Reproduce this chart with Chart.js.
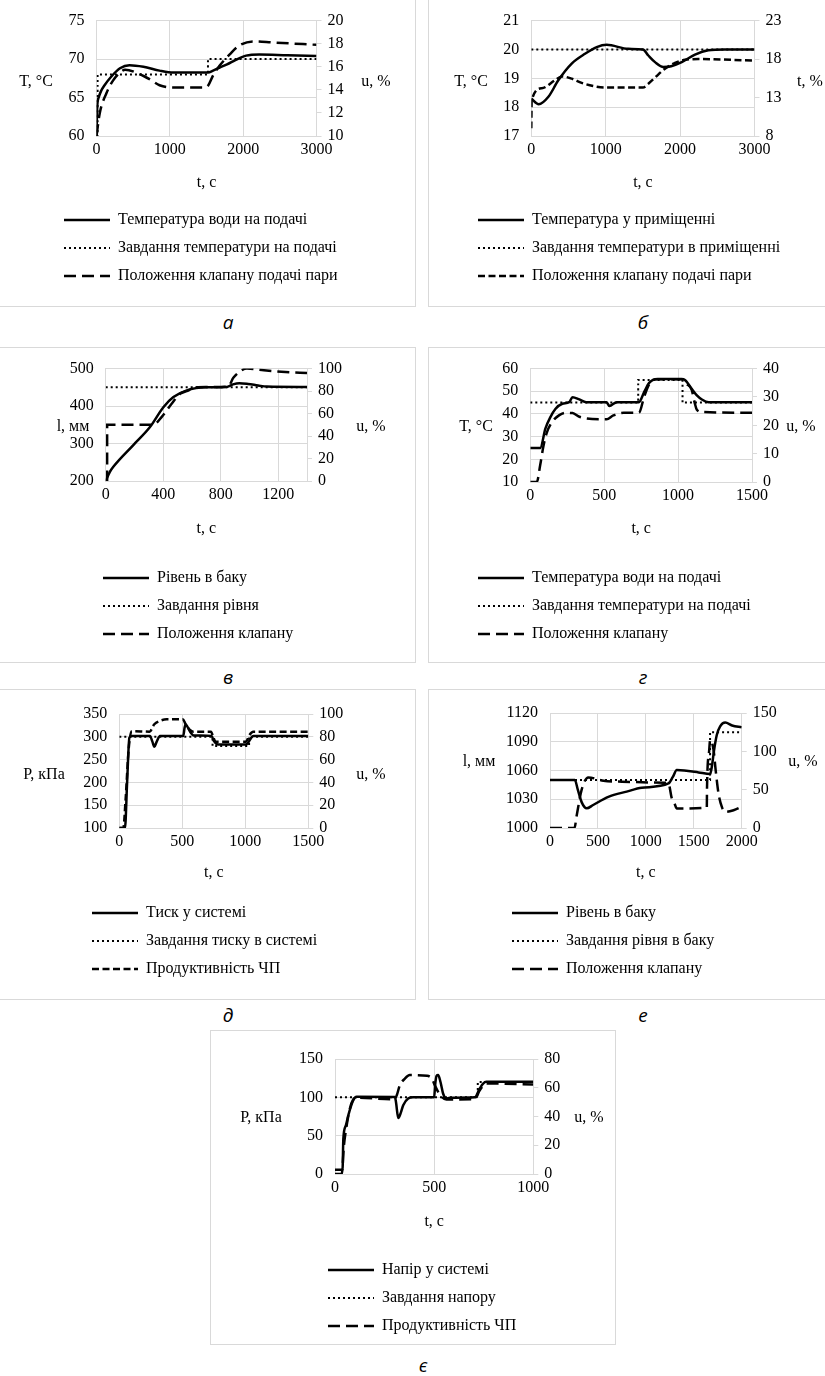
<!DOCTYPE html>
<html lang="uk">
<head>
<meta charset="utf-8">
<title>Перехідні процеси</title>
<script src="https://cdn.jsdelivr.net/npm/chart.js@4.4.1/dist/chart.umd.min.js"></script>
<style>
  html, body { margin: 0; padding: 0; background: #fff; }
  body { position: relative; width: 825px; height: 1376px; overflow: hidden; }
  .box { position: absolute; border: 1px solid #d9d9d9; box-sizing: border-box; }
  canvas { position: absolute; }
  .cap { position: absolute; font: italic 19px "Open Sans", "Noto Sans", sans-serif; color: #000; transform: translate(-50%, -50%); }
</style>
</head>
<body>
<script>
// ---- а: температура води на подачі ----
const aTicksX = [0, 3000, 1000];
const aTicksY = [60, 75, 5];
const aTicksU = [10, 20, 2];
const aTempT = [0, 10, 30, 60, 110, 200, 320, 450, 640, 860, 1050, 1520, 1590, 1680, 1780, 1900, 2040, 2220, 2600, 3000];
const aTempV = [60, 63.8, 65, 65.8, 66.6, 67.7, 68.8, 69.2, 69.0, 68.5, 68.25, 68.25, 68.5, 68.9, 69.3, 69.9, 70.45, 70.6, 70.5, 70.4];
const aSetT = [0, 15, 15, 1520, 1520, 3000];
const aSetV = [60, 60, 68, 68, 70, 70];
const aValveT = [0, 45, 135, 225, 340, 390, 590, 730, 860, 1045, 1480, 1525, 1590, 1680, 1820, 1950, 2140, 2410, 3000];
const aValveV = [10, 12.0, 13.7, 14.8, 15.6, 15.75, 15.35, 14.9, 14.4, 14.2, 14.2, 14.4, 15.25, 16.1, 17.1, 17.85, 18.2, 18.1, 17.9];

// ---- б: температура у приміщенні ----
const bTicksX = [0, 3000, 1000];
const bTicksY = [17, 21, 1];
const bTicksU = [8, 23, 5];
const bTempT = [0, 100, 230, 363, 543, 722, 879, 1013, 1304, 1500, 1573, 1663, 1775, 1880, 2022, 2200, 2380, 2600, 3000];
const bTempV = [18.3, 18.1, 18.36, 18.93, 19.51, 19.85, 20.08, 20.16, 20.02, 20.0, 19.79, 19.56, 19.39, 19.42, 19.56, 19.82, 19.97, 20.0, 20.0];
const bSetT = [0, 3000];
const bSetV = [20, 20];
const bValveT = [0, 5, 140, 319, 408, 543, 677, 856, 990, 1500, 1573, 1663, 1797, 1931, 2066, 2245, 3000];
const bValveV = [9.0, 12.6, 14.2, 15.25, 15.75, 15.45, 14.9, 14.45, 14.3, 14.3, 14.8, 15.6, 16.75, 17.5, 17.9, 18.0, 17.8];

// ---- в: рівень в баку ----
const vTicksX = [0, 1400, 400];
const vTicksY = [200, 500, 100];
const vTicksU = [0, 100, 20];
const vLevelT = [0, 30, 53, 192, 308, 401, 471, 564, 703, 840, 885, 930, 990, 1060, 1120, 1400];
const vLevelV = [200, 225, 238, 296, 344, 397, 424, 442, 450, 451, 458, 461, 459, 455, 452, 451];
const vSetT = [0, 1400];
const vSetV = [450, 450];
const vValveT = [0, 10, 10, 330, 390, 460, 517, 564, 640, 850, 889, 940, 982, 1100, 1250, 1400];
const vValveV = [0, 0, 50, 50, 57, 69, 77.5, 80, 83.5, 84, 92, 98, 100, 98.5, 97, 96];

// ---- г: температура води на подачі ----
const hTicksX = [0, 1500, 500];
const hTicksY = [10, 60, 10];
const hTicksU = [0, 40, 10];
const hTempT = [0, 67, 102, 136, 171, 217, 263, 286, 332, 378, 516, 535, 585, 735, 770, 804, 862, 1023, 1046, 1092, 1127, 1161, 1207, 1500];
const hTempV = [25, 25, 33.5, 38.6, 42.3, 44.5, 45.2, 47.4, 46.4, 45.2, 45.2, 43.5, 45.2, 45.2, 49.6, 53.7, 55.4, 55.4, 55, 51.1, 48.2, 46.4, 45.2, 45.2];
const hSetT = [0, 730, 730, 1030, 1030, 1500];
const hSetV = [45, 45, 55, 55, 45, 45];
const hValveT = [0, 44, 67, 90, 113, 148, 194, 240, 286, 332, 470, 516, 562, 632, 735, 770, 805, 850, 1023, 1060, 1092, 1112, 1127, 1161, 1500];
const hValveV = [0, 0, 6, 13, 17.6, 21.2, 23.5, 24.4, 24.3, 23.0, 22.1, 22.1, 23.5, 24.4, 24.4, 30, 34.5, 36.2, 36.2, 34.5, 32.5, 28, 25.5, 24.7, 24.4];

// ---- д: тиск у системі ----
const dTicksX = [0, 1500, 500];
const dTicksY = [100, 350, 50];
const dTicksU = [0, 100, 20];
const dPresT = [0, 45, 62, 80, 100, 243, 262, 278, 296, 323, 508, 518, 528, 545, 565, 590, 733, 750, 786, 1005, 1025, 1045, 1065, 1500];
const dPresV = [100, 100, 200, 298, 302, 302, 290, 278, 289, 302, 302, 320, 327, 320, 310, 303, 302, 291, 283, 283, 288, 297, 302, 302];
const dSetT = [0, 740, 740, 1030, 1030, 1500];
const dSetV = [300, 300, 280, 280, 300, 300];
const dPumpT = [0, 32, 50, 75, 100, 240, 278, 323, 376, 505, 526, 561, 587, 728, 745, 765, 1005, 1032, 1063, 1500];
const dPumpV = [0, 0, 25, 70, 85, 84.5, 91, 94, 95.3, 95.3, 91, 86, 84.5, 84.5, 80, 75.7, 75.7, 81.5, 84.5, 84.5];

// ---- е: рівень в баку ----
const eTicksX = [0, 2000, 500];
const eTicksY = [1000, 1120, 30];
const eTicksU = [0, 150, 50];
const eLevelT = [0, 260, 290, 330, 383, 450, 609, 800, 957, 1236, 1280, 1323, 1400, 1550, 1671, 1690, 1710, 1740, 1775, 1828, 1900, 2000];
const eLevelV = [1050, 1050, 1040, 1027, 1020.5, 1024, 1032.5, 1038, 1042, 1046.5, 1053, 1060.5, 1060, 1058, 1056.3, 1065, 1080, 1097, 1106, 1110, 1107, 1105];
const eSetT = [0, 1670, 1670, 2000];
const eSetV = [1050, 1050, 1100, 1100];
const eValveT = [0, 255, 279, 331, 400, 557, 749, 1200, 1236, 1271, 1299, 1323, 1636, 1638, 1660, 1671, 1706, 1730, 1758, 1793, 1828, 1915, 2000];
const eValveV = [0, 0, 16.6, 50.3, 66, 61.7, 60.4, 59, 58.2, 38.5, 32, 25.4, 26.7, 51.6, 100, 115, 102, 73.5, 45, 27.5, 21, 23.2, 27.6];

// ---- є: напір у системі ----
const yeTicksX = [0, 1000, 500];
const yeTicksY = [0, 150, 50];
const yeTicksU = [0, 80, 20];
const yeHeadT = [0, 38, 42, 55, 67, 92, 109, 302, 308, 319, 332, 344, 369, 394, 500, 505, 512, 520, 532, 545, 562, 579, 705, 730, 747, 763, 1000];
const yeHeadV = [5.5, 5.5, 46, 63.4, 76.5, 96.2, 100.6, 100.5, 93, 73, 80, 89.7, 98.4, 100, 100, 116, 128, 129, 120, 105, 98.4, 99.5, 100, 111.5, 118, 120.3, 120.3];
const yeSetT = [0, 720, 720, 1000];
const yeSetV = [100, 100, 120, 120];
const yePumpT = [0, 34, 45, 55, 75, 92, 109, 300, 312, 327, 350, 377, 465, 490, 503, 530, 562, 705, 730, 763, 1000];
const yePumpV = [0, 0, 19.8, 30.3, 45.5, 51.8, 53, 52, 55, 61.8, 66, 68.8, 68.3, 66, 61.8, 55, 51.8, 52, 58.3, 63, 62.3];

const GRID = '#d9d9d9';
const SERIF = '"Liberation Serif", "Times New Roman", serif';
const SOLID = [], DOT = [2, 3], DASH = [12, 6], SHORT = [7, 3.5];

Chart.defaults.font.family = SERIF;
Chart.defaults.font.size = 16;
Chart.defaults.color = '#000';

function series(label, ts, vs, axis, dash) {
  return {
    label,
    data: ts.map((t, i) => ({ x: t, y: vs[i] })),
    yAxisID: axis,
    borderColor: '#000',
    backgroundColor: '#000',
    borderWidth: dash === DOT ? 2 : 2.5,
    borderDash: dash,
    pointRadius: 0,
    cubicInterpolationMode: 'monotone',
    fill: false
  };
}

// Excel-like bits: horizontal axis titles and a legend that starts left of the plot
const excelBits = {
  id: 'excelBits',
  afterLayout(chart, args, o) {
    if (chart.legend) chart.legend.left = o.legendLeft;
  },
  afterDraw(chart, args, o) {
    const ctx = chart.ctx;
    ctx.save();
    ctx.font = '16px ' + SERIF;
    ctx.fillStyle = '#000';
    ctx.textAlign = 'center';
    ctx.textBaseline = 'middle';
    ctx.fillText(o.left, o.leftX, o.y);
    ctx.fillText(o.right, o.rightX, o.y);
    ctx.restore();
  }
};

const panels = [
  { cap: 'а', capAt: [228, 322], box: [-1, -1, 417, 308], plot: [96.5, 316.5, 20, 136], legendAt: [64, 220], xTitleY: 183,
    titles: ['T, °C', 36, 'u, %', 376, 82], x: aTicksX, y: aTicksY, u: aTicksU,
    sets: [series('Температура води на подачі', aTempT, aTempV, 'y', SOLID),
           series('Завдання температури на подачі', aSetT, aSetV, 'y', DOT),
           series('Положення клапану подачі пари', aValveT, aValveV, 'y1', DASH)] },
  { cap: 'б', capAt: [643, 322], box: [428, -1, 398, 308], plot: [531.3, 754.5, 20, 136], legendAt: [478, 220], xTitleY: 183,
    titles: ['T, °C', 471, 't, %', 810, 82], x: bTicksX, y: bTicksY, u: bTicksU,
    sets: [series('Температура у приміщенні', bTempT, bTempV, 'y', SOLID),
           series('Завдання температури в приміщенні', bSetT, bSetV, 'y', DOT),
           series('Положення клапану подачі пари', bValveT, bValveV, 'y1', SHORT)] },
  { cap: 'в', capAt: [228, 677], box: [-1, 347, 417, 316], plot: [105.7, 307, 368, 481], legendAt: [103, 578], xTitleY: 529,
    titles: ['l, мм', 73, 'u, %', 371, 427], x: vTicksX, y: vTicksY, u: vTicksU,
    sets: [series('Рівень в баку', vLevelT, vLevelV, 'y', SOLID),
           series('Завдання рівня', vSetT, vSetV, 'y', DOT),
           series('Положення клапану', vValveT, vValveV, 'y1', DASH)] },
  { cap: 'г', capAt: [643, 677], box: [428, 347, 398, 316], plot: [530.3, 752, 368, 482], legendAt: [478, 578], xTitleY: 529,
    titles: ['T, °C', 476, 'u, %', 801, 427], x: hTicksX, y: hTicksY, u: hTicksU,
    sets: [series('Температура води на подачі', hTempT, hTempV, 'y', SOLID),
           series('Завдання температури на подачі', hSetT, hSetV, 'y', DOT),
           series('Положення клапану', hValveT, hValveV, 'y1', DASH)] },
  { cap: 'д', capAt: [228, 1015], box: [-1, 689, 417, 311], plot: [119.3, 308.3, 714, 828], legendAt: [92, 913], xTitleY: 873,
    titles: ['P, кПа', 44, 'u, %', 371, 775], x: dTicksX, y: dTicksY, u: dTicksU,
    sets: [series('Тиск у системі', dPresT, dPresV, 'y', SOLID),
           series('Завдання тиску в системі', dSetT, dSetV, 'y', DOT),
           series('Продуктивність ЧП', dPumpT, dPumpV, 'y1', SHORT)] },
  { cap: 'е', capAt: [643, 1015], box: [428, 689, 398, 311], plot: [550, 741.7, 713, 828], legendAt: [512, 913], xTitleY: 873,
    titles: ['l, мм', 479, 'u, %', 803, 762], x: eTicksX, y: eTicksY, u: eTicksU,
    sets: [series('Рівень в баку', eLevelT, eLevelV, 'y', SOLID),
           series('Завдання рівня в баку', eSetT, eSetV, 'y', DOT),
           series('Положення клапану', eValveT, eValveV, 'y1', DASH)] },
  { cap: 'є', capAt: [423, 1365], box: [210, 1030, 406, 315], plot: [335, 533.3, 1059, 1174], legendAt: [328, 1270], xTitleY: 1222,
    titles: ['P, кПа', 261, 'u, %', 589, 1118], x: yeTicksX, y: yeTicksY, u: yeTicksU,
    sets: [series('Напір у системі', yeHeadT, yeHeadV, 'y', SOLID),
           series('Завдання напору', yeSetT, yeSetV, 'y', DOT),
           series('Продуктивність ЧП', yePumpT, yePumpV, 'y1', DASH)] }
];

const LEG_PAD = 12, LEG_H = 94, LEFT_W = 48, RIGHT_W = 40;
const plain = v => String(v);

panels.forEach(p => {
  const [bx, by, bw, bh] = p.box;
  const [pl, pr, pt, pb] = p.plot;

  const box = document.createElement('div');
  box.className = 'box';
  Object.assign(box.style, { left: bx + 'px', top: by + 'px', width: bw + 'px', height: bh + 'px' });
  document.body.appendChild(box);

  const cap = document.createElement('div');
  cap.className = 'cap';
  cap.textContent = p.cap;
  Object.assign(cap.style, { left: p.capAt[0] + 'px', top: p.capAt[1] + 'px' });
  document.body.appendChild(cap);

  const cv = document.createElement('canvas');
  cv.width = bw; cv.height = bh;
  Object.assign(cv.style, { left: bx + 'px', top: by + 'px', width: bw + 'px', height: bh + 'px' });
  document.body.appendChild(cv);

  const padL = pl - bx - LEFT_W;
  const padR = bw - (pr - bx) - RIGHT_W;
  const legendTop = p.legendAt[1] - 20;

  new Chart(cv, {
    type: 'line',
    data: { datasets: p.sets },
    options: {
      responsive: false,
      animation: false,
      devicePixelRatio: 1,
      layout: { padding: { left: padL, right: padR, top: pt - by, bottom: (by + bh) - legendTop - LEG_H } },
      scales: {
        x: {
          type: 'linear', min: p.x[0], max: p.x[1],
          ticks: { stepSize: p.x[2], includeBounds: false, padding: 4, maxRotation: 0, callback: plain },
          grid: { color: GRID, drawTicks: false },
          border: { color: GRID },
          title: { display: true, text: 't, с', padding: { top: 0, bottom: legendTop - p.xTitleY - 9.6 } },
          afterFit: s => { s.height = legendTop - pb; }
        },
        y: {
          position: 'left', min: p.y[0], max: p.y[1],
          ticks: { stepSize: p.y[2], padding: 12, callback: plain },
          grid: { color: GRID, drawTicks: false },
          border: { color: GRID },
          afterFit: s => { s.width = LEFT_W; }
        },
        y1: {
          position: 'right', min: p.u[0], max: p.u[1],
          ticks: { stepSize: p.u[2], padding: 6, callback: plain },
          grid: { drawOnChartArea: false, tickLength: 5, color: GRID },
          border: { color: GRID },
          afterFit: s => { s.width = RIGHT_W; }
        }
      },
      plugins: {
        tooltip: { enabled: false },
        legend: {
          position: 'bottom',
          align: 'start',
          labels: {
            usePointStyle: true,
            pointStyle: 'line',
            pointStyleWidth: 46,
            padding: LEG_PAD,
            color: '#000',
            font: { family: SERIF, size: 16 },
            generateLabels: chart => chart.data.datasets.map((d, i) => ({
              text: d.label, datasetIndex: i, hidden: false, fontColor: '#000',
              strokeStyle: d.borderColor, fillStyle: d.borderColor,
              lineWidth: d.borderWidth, lineDash: d.borderDash, lineCap: 'butt', pointStyle: 'line'
            }))
          }
        },
        excelBits: {
          legendLeft: p.legendAt[0] - LEG_PAD - bx,
          left: p.titles[0], leftX: p.titles[1] - bx,
          right: p.titles[2], rightX: p.titles[3] - bx,
          y: p.titles[4] - by
        }
      }
    },
    plugins: [excelBits]
  });
});
</script>
</body>
</html>
